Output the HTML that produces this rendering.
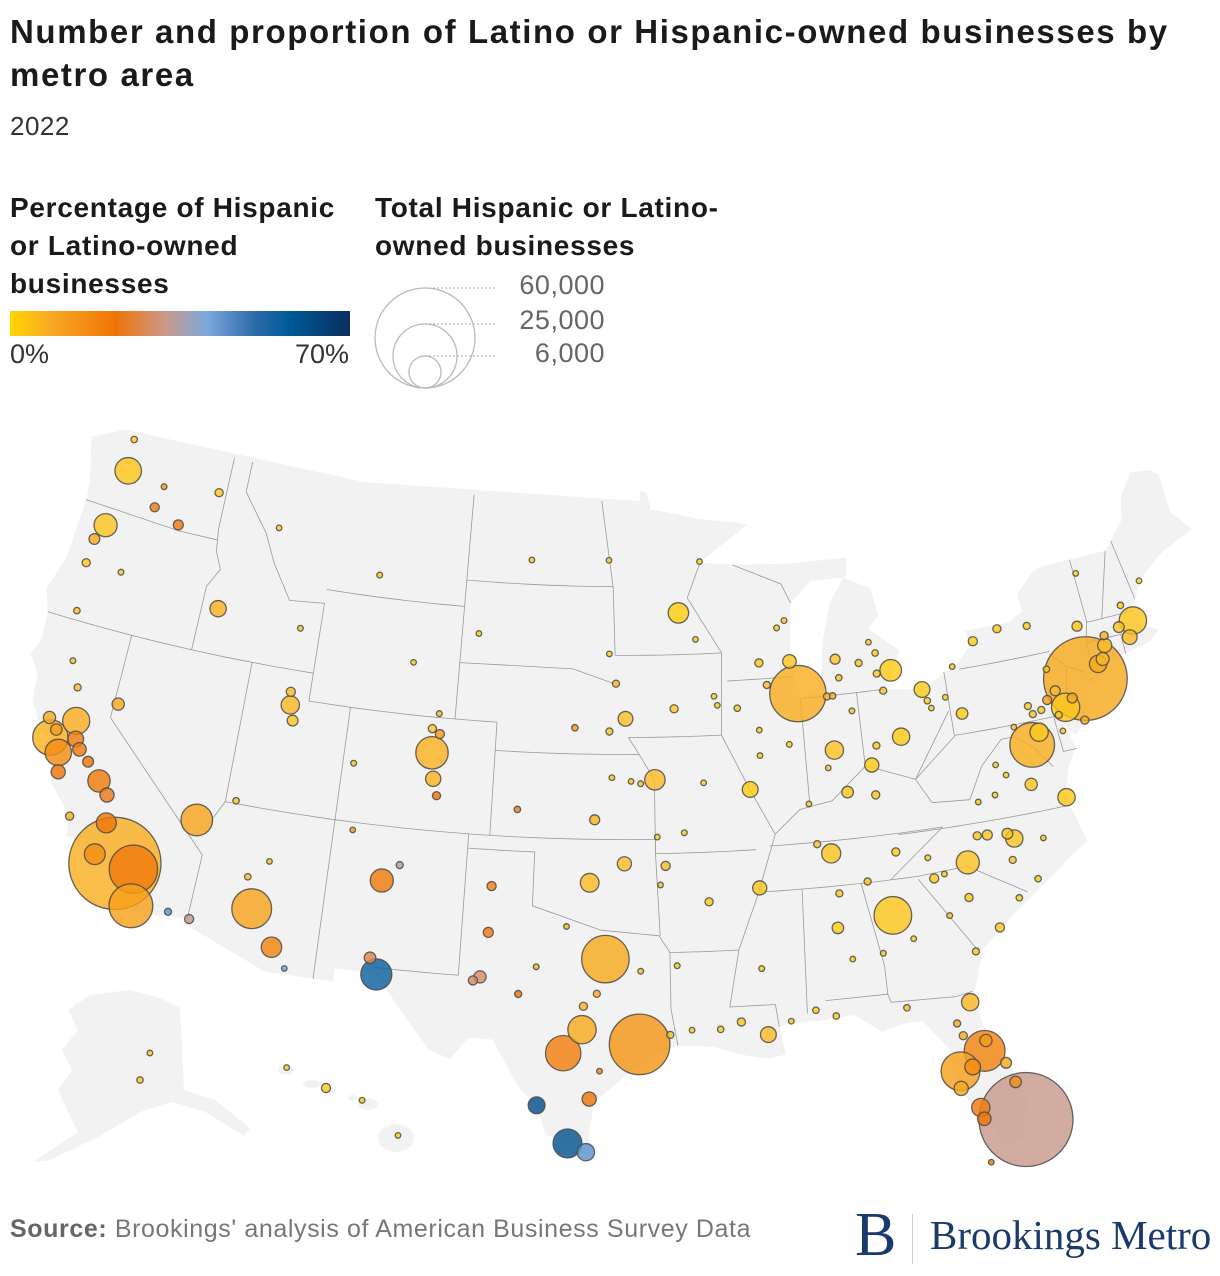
<!DOCTYPE html>
<html><head><meta charset="utf-8">
<style>
body{margin:0;width:1220px;height:1276px;background:#fff;overflow:hidden;position:relative;font-family:"Liberation Sans",sans-serif;}
.abs{position:absolute;white-space:nowrap;}
#title{left:10px;top:10px;font-size:33px;font-weight:bold;color:#1a1a1a;line-height:43px;white-space:normal;width:1200px;letter-spacing:1.6px}
#sub{left:10px;top:111px;font-size:26px;color:#333;letter-spacing:0.5px}
.lt{font-size:28px;font-weight:bold;color:#1a1a1a;line-height:38px;letter-spacing:0.7px}
.tick{font-size:27px;color:#333}
.sz{font-size:27px;color:#666;text-align:right;width:140px;letter-spacing:0.5px}
#src{left:10px;top:1215px;font-size:25px;color:#777;letter-spacing:0.6px}
</style></head>
<body>
<div id="title" class="abs">Number and proportion of Latino or Hispanic-owned businesses by metro area</div>
<div id="sub" class="abs">2022</div>
<div class="abs lt" style="left:10px;top:189px">Percentage of Hispanic<br>or Latino-owned<br>businesses</div>
<div class="abs" style="left:10px;top:311px;width:340px;height:25px;background:linear-gradient(90deg,#ffd600 0%,#f9a825 12%,#ef7405 31%,#c99a8c 46%,#7ba8dc 58%,#2c6aa8 72%,#005a98 82%,#0a2d5f 100%)"></div>
<div class="abs tick" style="left:10px;top:339px">0%</div>
<div class="abs tick" style="left:250px;top:339px;width:99px;text-align:right">70%</div>
<div class="abs lt" style="left:375px;top:189px">Total Hispanic or Latino-<br>owned businesses</div>
<div class="abs sz" style="left:465px;top:270px">60,000</div>
<div class="abs sz" style="left:465px;top:305px">25,000</div>
<div class="abs sz" style="left:465px;top:338px">6,000</div>
<svg class="abs" style="left:0;top:0" width="1220" height="1276" id="map">
 <g id="legcircles">
  <circle cx="425" cy="338" r="50" fill="none" stroke="#bbb" stroke-width="1.3"/>
  <circle cx="425" cy="356" r="32" fill="none" stroke="#bbb" stroke-width="1.3"/>
  <circle cx="425" cy="372" r="16" fill="none" stroke="#bbb" stroke-width="1.3"/>
  <line x1="425" y1="288" x2="495" y2="288" stroke="#aaa" stroke-dasharray="2,2"/>
  <line x1="425" y1="324" x2="495" y2="324" stroke="#aaa" stroke-dasharray="2,2"/>
  <line x1="425" y1="356" x2="495" y2="356" stroke="#aaa" stroke-dasharray="2,2"/>
 </g>
 <g id="base"></g>
 <g id="bubbles"></g>
</svg>
<div id="src" class="abs"><b style="color:#666">Source:</b> Brookings' analysis of American Business Survey Data</div>
<div class="abs" style="left:855px;top:1200px;font-family:'Liberation Serif',serif;font-size:62px;color:#1a3a6b">B</div>
<div class="abs" style="left:912px;top:1214px;width:1px;height:50px;background:#c8cfdc"></div>
<div class="abs" style="left:930px;top:1211px;font-family:'Liberation Serif',serif;font-size:41px;color:#1a3a6b">Brookings Metro</div>
<script>
// ---- data ----
const lons=[-122.33,-122.68,-122.48,-117.43,-120.5,-119.1,-120.3,-123.03,-123.09,-122.87,
-121.3,-116.2,-119.81,-121.49,-122.42,-121.89,-121.29,-121.0,-119.79,-119.02,
-119.18,-121.66,-118.24,-117.4,-117.16,-115.56,-114.62,-115.14,-112.07,-110.97,
-110.3,-112.47,-111.65,-111.89,-111.66,-111.97,-113.58,-112.03,-113.99,-108.5,
-104.82,-106.3,-104.99,-104.82,-105.08,-104.7,-104.6,-108.55,-106.65,-105.94,
-106.78,-108.2,-106.44,-101.85,-101.83,-102.08,-102.37,-100.44,-99.73,-96.8,
-95.37,-97.74,-98.49,-97.4,-99.5,-98.23,-97.5,-97.7,-97.15,-95.3,
-94.1,-98.49,-97.0,-97.52,-95.99,-97.34,-94.58,-95.68,-95.94,-96.7,
-93.61,-96.73,-96.79,-100.78,-103.23,-93.27,-92.1,-92.46,-87.9,-89.4,
-88.0,-87.63,-89.09,-89.6,-89.65,-90.2,-93.29,-92.33,-86.16,-85.14,
-86.25,-83.05,-85.67,-84.55,-83.54,-81.69,-82.99,-84.51,-84.19,-85.76,
-84.5,-86.78,-90.05,-83.92,-85.31,-86.8,-86.59,-86.3,-88.04,-90.18,
-92.29,-94.16,-94.4,-93.75,-90.07,-91.15,-92.02,-93.2,-89.09,-87.22,
-84.28,-81.66,-82.32,-81.38,-82.46,-81.95,-80.6,-80.35,-82.53,-81.87,
-81.8,-80.19,-81.78,-82.14,-81.26,-84.39,-81.97,-81.1,-84.99,-83.63,
-80.84,-78.64,-78.9,-79.79,-80.24,-78.88,-77.94,-82.4,-81.03,-79.93,
-78.89,-82.55,-77.44,-76.0,-79.94,-78.48,-77.04,-76.61,-76.88,-76.3,
-75.47,-75.16,-79.99,-75.66,-78.88,-77.61,-76.15,-73.76,-73.95,-73.2,
-72.68,-72.93,-71.41,-71.8,-72.59,-71.06,-71.46,-70.26,-73.21,-74.76,
-74.42,-75.52,-75.55];
const lats=[47.61,45.52,48.75,47.66,46.6,46.2,47.4,44.94,44.05,42.33,
44.06,43.62,39.53,38.58,37.77,37.34,37.96,37.64,36.74,35.37,
34.2,36.68,34.05,34.0,32.72,32.79,32.69,36.17,33.45,32.22,
31.55,34.54,35.2,40.76,40.23,41.22,37.1,43.49,46.87,45.78,
41.14,42.85,39.74,38.83,40.59,40.42,38.25,39.06,35.08,35.69,
32.32,36.73,31.76,33.58,35.22,31.99,31.85,31.46,32.45,32.78,
29.76,30.27,29.42,27.8,27.53,26.2,25.9,31.1,31.55,32.35,
30.08,33.91,28.8,35.47,36.15,37.69,39.1,39.05,41.26,40.81,
41.59,43.55,46.88,46.81,44.08,44.98,46.78,44.02,43.04,43.07,
44.5,41.88,42.27,40.7,39.8,38.63,37.21,38.95,39.77,41.08,
41.68,42.33,42.96,42.73,41.65,41.5,39.96,39.1,39.76,38.25,
38.04,36.16,35.15,35.96,35.04,33.52,34.73,32.37,30.69,32.3,
34.75,36.06,35.39,32.53,29.95,30.45,30.22,30.23,30.37,30.42,
30.44,30.33,29.65,28.54,27.95,28.04,28.0,27.27,27.34,26.56,
26.14,25.88,24.56,29.19,28.9,33.75,33.47,32.08,32.46,32.84,
35.23,35.78,35.99,36.07,36.1,35.05,34.23,34.85,34.0,32.78,
33.69,35.6,37.54,36.85,37.27,38.03,38.9,39.29,40.27,40.04,
40.6,39.95,40.44,41.41,42.89,43.16,43.05,42.65,40.78,41.18,
41.76,41.31,41.82,42.26,42.1,42.36,42.99,43.66,44.48,40.22,
39.36,39.16,39.74];
const counts=[4200,3200,250,400,500,600,200,700,400,250,
200,1600,900,4400,7500,4200,1500,1100,3000,2400,
2600,1200,51000,14000,11500,300,500,6000,9500,2500,
150,250,150,2000,700,500,250,200,150,200,
200,150,6300,1400,400,500,400,200,3200,300,
800,150,5800,600,500,900,500,300,200,13500,
22000,4800,7500,1200,1700,5000,1800,400,300,200,
300,150,150,2100,1200,600,2500,150,1300,300,
400,150,150,100,150,2500,100,150,1100,400,
200,19000,300,150,150,1500,200,150,2000,200,
300,2800,600,300,300,1500,1800,1200,300,800,
400,2200,1200,400,300,800,300,150,250,200,
400,500,150,200,1500,400,250,150,150,250,
250,1800,300,10000,9000,1500,700,800,1200,2000,
1100,53000,150,400,900,8500,200,300,200,150,
3200,1800,700,600,400,300,250,500,400,500,
250,200,900,1800,150,150,12000,2000,300,300,
600,4800,800,250,500,400,300,600,42000,1800,
1200,1000,1300,700,400,4500,250,150,100,600,
400,150,300];
const pcts=[5,6,4,3,22,22,15,12,5,6,
4,10,12,11,10,18,22,22,22,23,
18,23,11,22,14,45,33,13,13,20,
42,6,6,9,6,8,5,5,3,3,
8,4,10,10,6,15,23,5,22,35,
28,15,55,22,20,30,30,23,10,12,
16,12,21,23,60,58,45,10,12,8,
8,10,20,8,7,10,8,6,7,5,
4,3,2,2,3,3,1,3,6,4,
4,11,8,3,2,3,3,3,6,5,
8,4,6,5,6,4,4,3,3,4,
4,6,5,3,4,4,4,3,3,2,
4,8,5,3,8,4,3,3,4,5,
6,9,12,20,14,18,12,18,12,22,
23,33,23,12,15,5,4,5,5,3,
6,6,6,5,5,6,4,4,3,4,
4,3,4,4,2,3,11,5,4,4,
8,5,2,5,3,4,3,4,12,12,
8,9,8,6,10,5,3,1,1,12,
12,4,5];
// additional smaller metros
const lons2=[-88.4,-85.59,-83.69,-83.74,-83.95,-87.57,-86.53,-88.24,-90.58,-91.67,-91.53,-85.98,-81.52,-80.65,-81.38,-80.08,-75.93,-76.73,-77.72,-87.36,-94.51,-95.24,-96.57,-100.87,-98.34,-96.4,-119.29,-120.48,-122.71,-122.26,-121.84,-122.39,-120.66,-81.93,-77.37,-79.14,-78.87];
const lats2=[44.26,42.29,43.01,42.28,43.42,37.97,39.17,40.12,41.52,41.98,41.66,41.68,41.08,41.1,40.8,42.13,40.34,39.96,39.64,36.53,37.08,38.97,39.18,37.97,40.92,42.5,36.33,37.3,38.44,38.1,39.73,40.59,35.28,34.95,35.61,37.41,38.45];
const counts2=[200,250,250,300,150,150,150,200,250,150,150,250,250,150,150,150,500,300,150,300,150,200,150,250,250,300,1200,700,900,800,300,200,400,200,150,120,150];
const pcts2=[3,5,3,4,5,2,3,4,6,3,3,10,2,3,2,4,14,5,4,7,4,5,5,25,15,10,24,23,12,15,8,5,10,4,4,2,6];
// Alaska & Hawaii (inset)
const akLons=[-149.9,-147.7], akLats=[61.2,64.8], akCounts=[250,120], akPcts=[5,4];
const hiLons=[-159.37,-157.86,-156.47,-155.09], hiLats=[21.98,21.3,20.89,19.72], hiCounts=[120,500,200,150], hiPcts=[3,4,5,3];

// ---- projection (Albers conic) ----
const R=Math.PI/180,p1=29.5*R,p2=45.5*R,p0=37.5*R,l0=-96*R;
const n=(Math.sin(p1)+Math.sin(p2))/2,C=Math.cos(p1)**2+2*n*Math.sin(p1),r0=Math.sqrt(C-2*n*Math.sin(p0))/n;
function alb(lon,lat){const t=n*(lon*R-l0),r=Math.sqrt(C-2*n*Math.sin(lat*R))/n;return [r*Math.sin(t),r0-r*Math.cos(t)];}
const anc=[[-118.24,34.05,110,860],[-73.95,40.78,1090,675],[-80.19,25.88,1016,1117],[-87.63,41.88,793,693],[-104.99,39.74,429,759],[-106.44,31.76,394,984],[-95.37,29.76,637,1046],[-122.33,47.61,128,472],[-71.06,42.36,1136,612]];
let P=anc.map(a=>alb(a[0],a[1]));
let Xm=0,Ym=0,xm=0,ym=0;P.forEach((p,i)=>{Xm+=p[0];Ym+=p[1];xm+=anc[i][2];ym+=anc[i][3];});
const N=anc.length;Xm/=N;Ym/=N;xm/=N;ym/=N;
let num=0,den=0;P.forEach((p,i)=>{num+=(p[0]-Xm)*(anc[i][2]-xm)-(p[1]-Ym)*(anc[i][3]-ym);den+=(p[0]-Xm)**2+(p[1]-Ym)**2;});
const S=num/den,TX=xm-S*Xm,TY=ym+S*Ym;
function proj(lon,lat){const p=alb(lon,lat);return [S*p[0]+TX,TY-S*p[1]];}
function akProj(lon,lat){return [140+(lon+149.9)*4.5,1080-(lat-61.2)*7.5];}
function hiProj(lon,lat){return [326+(lon+157.86)*26,1088-(lat-21.3)*30];}
const rScale=v=>50*Math.sqrt(v/60000);
const stops=[[0,[255,214,0]],[7,[252,192,40]],[23,[239,118,10]],[33,[201,154,140]],[41,[123,168,220]],[56,[5,90,152]],[70,[10,45,95]]];
function col(p){for(let i=1;i<stops.length;i++){if(p<=stops[i][0]){const a=stops[i-1],b=stops[i],t=(p-a[0])/(b[0]-a[0]);return 'rgb('+a[1].map((c,k)=>Math.round(c+(b[1][k]-c)*t)).join(',')+')';}}return 'rgb(10,45,95)';}

const NS='http://www.w3.org/2000/svg';
const base=document.getElementById('base');
const outline=[[-124.7,48.4],[-123.1,49.0],[-110,49],[-95.15,49.0],[-95.15,49.38],[-94.8,49.3],[-94.6,48.7],[-93.5,48.55],[-92.0,48.3],[-90.0,48.1],[-89.5,48.0],[-92.1,46.75],[-90.4,46.6],[-87.4,46.5],[-84.5,46.5],[-84.7,45.8],[-86.5,45.8],[-87.6,45.1],[-87.9,43.0],[-87.5,41.7],[-86.5,42.1],[-86.2,43.6],[-85.6,45.0],[-84.8,45.8],[-83.5,45.3],[-83.3,44.3],[-83.9,43.9],[-82.5,43.0],[-83.1,42.1],[-83.5,41.7],[-81.7,41.5],[-79.8,42.2],[-79.0,42.8],[-79.2,43.3],[-77.0,43.3],[-76.2,43.6],[-76.3,44.2],[-75.3,44.9],[-74.7,45.0],[-71.5,45.0],[-71.1,45.3],[-70.3,45.9],[-70.0,46.7],[-69.2,47.45],[-68.2,47.35],[-67.8,47.1],[-67.8,45.7],[-67.0,44.9],[-68.8,44.4],[-70.2,43.7],[-70.8,42.9],[-70.6,42.6],[-71.0,42.3],[-70.0,41.8],[-70.5,41.5],[-71.9,41.3],[-73.8,40.8],[-72.0,41.0],[-74.0,40.5],[-74.2,39.6],[-74.95,38.9],[-75.5,39.5],[-75.1,38.5],[-75.6,37.9],[-76.0,37.0],[-75.9,36.5],[-75.5,35.2],[-76.5,34.7],[-77.9,33.9],[-79.2,33.2],[-80.8,32.1],[-81.4,30.7],[-81.3,29.5],[-80.5,28.0],[-80.0,26.7],[-80.4,25.2],[-81.1,25.1],[-81.8,26.1],[-82.7,27.5],[-82.8,28.8],[-83.7,29.9],[-84.4,29.9],[-85.4,29.7],[-86.5,30.4],[-88.0,30.3],[-89.0,30.3],[-89.6,30.2],[-89.4,29.2],[-90.2,29.1],[-91.3,29.3],[-92.3,29.6],[-93.8,29.7],[-94.7,29.4],[-96.0,28.6],[-97.2,27.7],[-97.4,26.5],[-97.2,25.95],[-97.7,26.0],[-99.1,26.5],[-99.5,27.5],[-100.3,28.2],[-101.4,29.8],[-102.4,29.8],[-103.1,29.0],[-104.0,29.3],[-104.7,30.0],[-106.5,31.8],[-108.2,31.8],[-108.2,31.33],[-111.1,31.33],[-114.8,32.5],[-114.7,32.7],[-117.1,32.5],[-117.3,33.2],[-118.4,33.8],[-118.5,34.0],[-119.5,34.4],[-120.6,34.6],[-120.7,35.3],[-121.9,36.3],[-121.9,36.9],[-122.5,37.5],[-122.5,37.8],[-123.0,38.0],[-123.7,38.9],[-123.8,39.8],[-124.4,40.4],[-124.1,41.0],[-124.2,42.0],[-124.6,42.8],[-124.1,44.0],[-124.0,46.2],[-124.1,46.9]];
function pathOf(pts,close){return pts.map((q,i)=>{const p=proj(q[0],q[1]);return (i?'L':'M')+p[0].toFixed(1)+','+p[1].toFixed(1);}).join('')+(close?'Z':'');}
let o=document.createElementNS(NS,'path');
o.setAttribute('d',pathOf(outline,true));o.setAttribute('fill','#f2f2f2');o.setAttribute('stroke','none');


base.appendChild(o);
function hline(lat,a,b){const r=[];for(let x=a;x<=b+1e-6;x+=(b-a)/12)r.push([x,lat]);return r;}
const borders=[
[[-124,46.2],[-119,46.0],[-117,46.0]],
[[-117.04,49],[-117.04,46.4],[-116.9,45.6],[-116.5,45.0],[-117.0,44.3],[-117.03,42.0]],
hline(42,-124.2,-111.05),
[[-120,42],[-120,39],[-114.6,35.0],[-114.7,32.7]],
[[-114.05,42],[-114.05,37],[-114.6,36.1]],
[[-116.05,49],[-116.05,47.9],[-114.6,46.6],[-113.9,45.6],[-112.8,44.4],[-111.05,44.5],[-111.05,41],[-109.05,41]],
hline(45,-111.05,-104.05),[[-104.05,49],[-104.05,41]],
hline(37,-114.05,-94.6),[[-109.05,41],[-109.05,31.33]],hline(41,-109.05,-102.05),[[-102.05,41],[-102.05,37]],
[[-103,37],[-103,32]],hline(32,-106.6,-103),hline(36.5,-103,-100),[[-100,36.5],[-100,34.6],[-97,33.8],[-94.5,33.6],[-94.05,33.0],[-94.05,31],[-93.8,29.7]],
[[-104.05,43],[-98.5,43],[-96.5,42.5]],hline(40,-102.05,-95.3),hline(45.94,-104.05,-96.56),
[[-97.2,49],[-96.56,45.9],[-96.45,43.5]],hline(43.5,-96.45,-91.2),hline(40.6,-95.8,-91.4),
[[-95.8,40.6],[-95.3,40],[-94.6,39.1],[-94.6,36.5],[-94.45,33.6]],hline(36.5,-94.6,-90.1),hline(33.0,-94.05,-91.1),
[[-91.2,43.5],[-91.4,40.6],[-90.2,38.6],[-89.2,37.0],[-90.1,35.0],[-91.1,33.0],[-91.6,31.0],[-89.7,31.0],[-89.6,30.2]],
[[-92.1,46.7],[-92.8,45.5],[-91.2,43.5]],hline(42.5,-91,-87.8),[[-90.4,46.6],[-88,45.8],[-87.6,45.1]],
[[-87.53,41.7],[-87.53,38]],[[-84.82,41.7],[-84.82,39.1]],hline(41.7,-87.5,-83.5),
[[-89.2,37.0],[-88.0,37.8],[-86.5,38.0],[-84.8,39.1],[-82.6,38.4],[-80.6,40.6]],
hline(36.6,-89.5,-81.7),hline(36.55,-83.7,-75.9),[[-81.7,36.6],[-84.3,35.0]],hline(35,-90.3,-83.1),
[[-88.2,35],[-88.4,30.6]],[[-85.6,35],[-85.0,32.0],[-85.0,31.0]],[[-87.6,31],[-85,31],[-84.9,30.7],[-82.2,30.6],[-81.5,30.7]],
[[-83.1,34.9],[-81.0,32.1]],[[-83.1,35.0],[-80.9,35.1],[-78.5,33.85]],
hline(42,-79.76,-75.35),hline(39.72,-80.5,-75.8),[[-80.52,42],[-80.52,39.72]],
[[-80.5,39.7],[-82.6,38.4],[-82.0,37.5],[-80.3,37.4],[-79.5,38.5],[-78.4,39.3],[-77.8,39.3],[-77.0,38.8],[-76.3,38.0]],
[[-75.8,39.72],[-75.7,38.45],[-75.05,38.45]],[[-75.35,41.9],[-74.7,41.35],[-75.1,40.0],[-75.5,39.5]],[[-74.7,41.35],[-73.9,41.0]],
[[-73.5,41.0],[-73.5,42.05],[-73.25,42.75],[-73.35,45.0]],[[-72.5,42.7],[-71.5,45.0]],hline(42.0,-73.5,-71.4),[[-71.8,42.0],[-71.8,41.3]],
[[-70.7,43.1],[-71.1,45.3]],hline(42.7,-73.25,-70.9),[[-94.6,37],[-94.6,36.5]]];
borders.forEach((b,i)=>{
 const l=document.createElementNS(NS,'path');
 l.setAttribute('d',pathOf(b,false));l.setAttribute('fill','none');l.setAttribute('stroke','#9a9a9a');l.setAttribute('stroke-width','0.8');
 
 
 base.appendChild(l);
});
const ak=document.createElementNS(NS,'path');
ak.setAttribute('d','M90,995L130,990L160,998L180,1008L184,1090L215,1100L250,1128L244,1136L205,1112L172,1102L140,1112L100,1136L50,1160L33,1162L78,1132L68,1112L58,1090L72,1070L62,1050L78,1030L68,1010Z');
ak.setAttribute('fill','#f2f2f2');


base.appendChild(ak);
[[286,1070,8,5],[312,1084,9,4],[330,1090,6,3],[352,1098,5,3],[368,1104,10,6],[396,1138,18,14]].forEach(e=>{
 const el=document.createElementNS(NS,'ellipse');
 el.setAttribute('cx',e[0]);el.setAttribute('cy',e[1]);el.setAttribute('rx',e[2]);el.setAttribute('ry',e[3]);el.setAttribute('fill','#f2f2f2');
 
 
 base.appendChild(el);
});
const marks=[];
lons.forEach((lo,i)=>marks.push([proj(lo,lats[i]),counts[i],pcts[i]]));
lons2.forEach((lo,i)=>marks.push([proj(lo,lats2[i]),counts2[i],pcts2[i]]));
akLons.forEach((lo,i)=>marks.push([akProj(lo,akLats[i]),akCounts[i],akPcts[i]]));
hiLons.forEach((lo,i)=>marks.push([hiProj(lo,hiLats[i]),hiCounts[i],hiPcts[i]]));
marks.sort((a,b)=>b[1]-a[1]);
const g=document.getElementById('bubbles');
marks.forEach(m=>{
 const c=document.createElementNS(NS,'circle');
 c.setAttribute('cx',m[0][0].toFixed(1));c.setAttribute('cy',m[0][1].toFixed(1));
 c.setAttribute('r',Math.max(2.8,rScale(m[1])).toFixed(2));
 c.setAttribute('fill',col(m[2]));c.setAttribute('fill-opacity','0.82');
 c.setAttribute('stroke','#4a4a4a');c.setAttribute('stroke-width','1.3');c.setAttribute('stroke-opacity','0.85');
 
 
 g.appendChild(c);
});
</script>
</body></html>
